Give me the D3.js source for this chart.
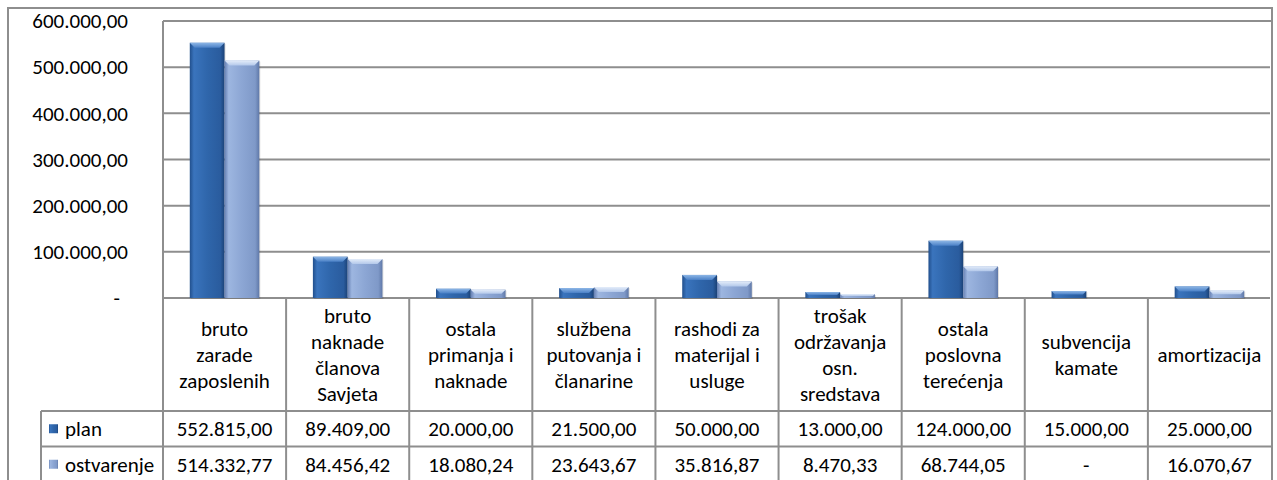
<!DOCTYPE html>
<html>
<head>
  <meta charset="UTF-8">
  <title>plan / ostvarenje</title>
  <script src="https://d3js.org/d3.v7.min.js"></script>
  <style>
    body { margin: 0; background: #fff; }
    text { font-family: Carlito, Lato, "Open Sans", sans-serif; fill: #000; font-variant-ligatures: none; }
  </style>
</head>
<body>
<div id="chart"></div>
<script>
// chart data
var categories = [
  "bruto\nzarade\nzaposlenih",
  "bruto\nnaknade\nčlanova\nSavjeta",
  "ostala\nprimanja i\nnaknade",
  "službena\nputovanja i\nčlanarine",
  "rashodi za\nmaterijal i\nusluge",
  "trošak\nodržavanja\nosn.\nsredstava",
  "ostala\nposlovna\nterećenja",
  "subvencija\nkamate",
  "amortizacija"
];
var seriesNames = ["plan", "ostvarenje"];
var plan = [552815.00, 89409.00, 20000.00, 21500.00, 50000.00, 13000.00, 124000.00, 15000.00, 25000.00];
var ostvarenje = [514332.77, 84456.42, 18080.24, 23643.67, 35816.87, 8470.33, 68744.05, 0, 16070.67];
var yTicks = [0, 100000, 200000, 300000, 400000, 500000, 600000];

var width = 1277, height = 480;
var plotLeft = 163, plotRight = 1271, plotTop = 21, plotBottom = 298;
var headerBottom = 411, rowH = 35.5, legendLeft = 41;
var fs = 21;

var locale = d3.formatLocale({decimal: ",", thousands: ".", grouping: [3], currency: ["", ""]});
var fmt = locale.format(",.2f");
function label(v) { return v === 0 ? "-" : fmt(v); }

var svg = d3.select("#chart").append("svg")
    .attr("width", width)
    .attr("height", height);

// gradients for the bevelled bars
var defs = svg.append("defs");
function grad(id, stops, vertical) {
  var g = defs.append("linearGradient").attr("id", id)
      .attr("x1", 0).attr("y1", 0).attr("x2", vertical ? 0 : 1).attr("y2", vertical ? 1 : 0);
  stops.forEach(function(s) {
    g.append("stop").attr("offset", s[0]).attr("stop-color", s[1]);
  });
}
grad("g0", [["0%", "#214f8c"], ["12%", "#3a74bd"], ["50%", "#2f66ab"], ["88%", "#2a5c9e"], ["100%", "#1b4277"]]);
grad("g1", [["0%", "#6680b3"], ["12%", "#9db6e0"], ["50%", "#8ca6d4"], ["88%", "#7f99c8"], ["100%", "#5f78a8"]]);
grad("t0", [["0%", "#8db6e6"], ["100%", "#4a80c6"]], true);
grad("t1", [["0%", "#e3ecf9"], ["100%", "#b3c8ea"]], true);

var series = [plan, ostvarenje];

var x0 = d3.scaleBand().domain(d3.range(categories.length)).range([plotLeft, plotRight]).paddingInner(0).paddingOuter(0);
var x1 = d3.scaleBand().domain([0, 1]).range([0, x0.bandwidth()]).paddingOuter(0.77).paddingInner(0);
var y = d3.scaleLinear().domain([0, 600000]).range([plotBottom, plotTop]);

var lineColor = "#8e8e8e";

// gridlines
svg.append("g").selectAll("line").data(yTicks).enter().append("line")
    .attr("x1", plotLeft).attr("x2", plotRight - 1)
    .attr("y1", function(d) { return y(d); }).attr("y2", function(d) { return y(d); })
    .attr("stroke", lineColor).attr("stroke-width", 2);

// y axis labels
var yAxis = d3.axisLeft(y).tickValues(yTicks).tickSize(0).tickPadding(0)
    .tickFormat(function(d) { return label(d); });
var ya = svg.append("g").attr("transform", "translate(128,0)").call(yAxis);
ya.select(".domain").remove();
ya.selectAll("text").attr("font-size", fs).attr("dy", "0.32em")
    .style("font-family", "Carlito, Lato, sans-serif").attr("fill", "#000");
ya.selectAll("text").filter(function(d) { return d === 0; }).attr("dx", -8);

// bars
var bars = svg.append("g");
series.forEach(function(vals, s) {
  vals.forEach(function(v, i) {
    if (v === 0) return;
    var bx = x0(i) + x1(s), bw = x1.bandwidth(), by = y(v), bh = plotBottom - by;
    var bev = Math.min(5, bh / 2);
    bars.append("rect")
        .attr("x", bx + 1).attr("y", by + 1).attr("width", bw).attr("height", bh)
        .attr("fill", "#000").attr("opacity", 0.12);
    bars.append("rect")
        .attr("x", bx).attr("y", by).attr("width", bw).attr("height", bh)
        .attr("fill", "url(#g" + s + ")");
    bars.append("path")
        .attr("d", "M" + bx + "," + by + "L" + (bx + bw) + "," + by +
             "L" + (bx + bw - bev) + "," + (by + bev) + "L" + (bx + bev) + "," + (by + bev) + "Z")
        .attr("fill", "url(#t" + s + ")");
  });
});

// table lines
var tbl = svg.append("g").attr("stroke", lineColor).attr("stroke-width", 2).attr("fill", "none");
// outer border
tbl.append("path").attr("d", "M8," + (height + 2) + "V8H1272V" + (height + 2));
// plot left border
tbl.append("line").attr("x1", plotLeft).attr("x2", plotLeft).attr("y1", plotTop).attr("y2", height);
tbl.append("line").attr("x1", plotLeft).attr("x2", plotRight).attr("y1", plotTop).attr("y2", plotTop);
// category column separators
d3.range(1, categories.length).forEach(function(i) {
  tbl.append("line").attr("x1", x0(i)).attr("x2", x0(i)).attr("y1", plotBottom).attr("y2", height);
});
// rows
tbl.append("line").attr("x1", legendLeft).attr("x2", plotRight).attr("y1", headerBottom).attr("y2", headerBottom);
tbl.append("line").attr("x1", legendLeft).attr("x2", plotRight).attr("y1", headerBottom + rowH).attr("y2", headerBottom + rowH);
tbl.append("line").attr("x1", legendLeft).attr("x2", legendLeft).attr("y1", headerBottom).attr("y2", height);

// category header text
var lineH = 26;
var headerMid = (plotBottom + headerBottom) / 2;
categories.forEach(function(c, i) {
  var lines = c.split("\n");
  var t = svg.append("text")
      .attr("text-anchor", "middle")
      .attr("font-size", fs);
  lines.forEach(function(l, k) {
    t.append("tspan")
        .attr("x", x0(i) + x0.bandwidth() / 2)
        .attr("y", headerMid + (k - (lines.length - 1) / 2) * lineH)
        .attr("dy", "0.35em")
        .text(l);
  });
});

// value rows with legend keys
series.forEach(function(vals, s) {
  var rowMid = headerBottom + rowH * s + rowH / 2;
  svg.append("rect")
      .attr("x", 49).attr("y", rowMid - 4.5).attr("width", 9).attr("height", 9)
      .attr("fill", "url(#g" + s + ")");
  svg.append("text")
      .attr("x", 65).attr("y", rowMid).attr("dy", "0.35em")
      .attr("font-size", fs)
      .text(seriesNames[s]);
  vals.forEach(function(v, i) {
    svg.append("text")
        .attr("x", x0(i) + x0.bandwidth() / 2)
        .attr("y", rowMid).attr("dy", "0.35em")
        .attr("text-anchor", "middle")
        .attr("font-size", fs)
        .text(label(v));
  });
});
</script>
</body>
</html>
